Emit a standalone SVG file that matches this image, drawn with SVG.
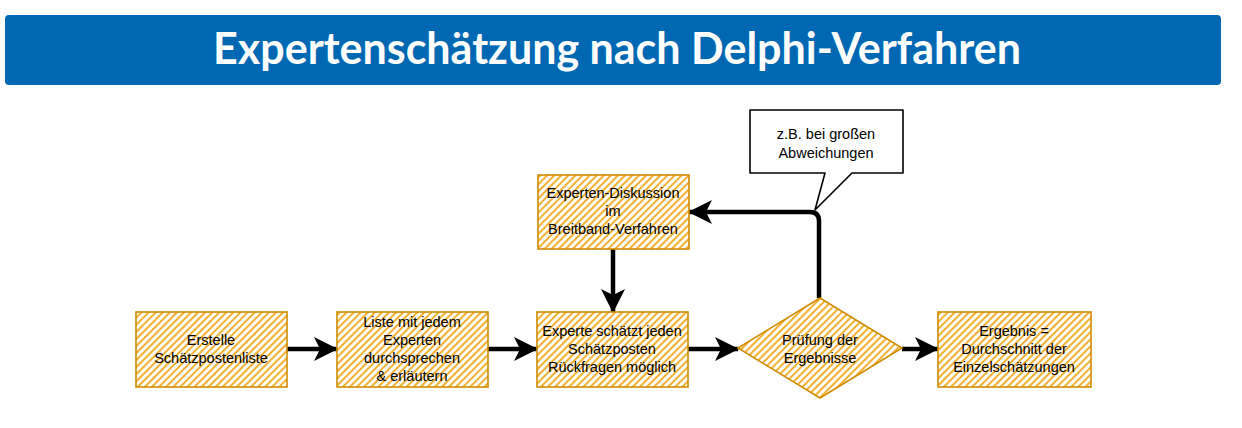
<svg xmlns="http://www.w3.org/2000/svg" width="1242" height="428" viewBox="0 0 1242 428">
<defs>
<pattern id="hatch" patternUnits="userSpaceOnUse" width="5" height="5" patternTransform="rotate(45)">
<rect width="5" height="5" fill="#ffffff"/>
<line x1="1" y1="0" x2="1" y2="5" stroke="#f0a30a" stroke-width="1.7"/>
</pattern>
<marker id="arr" markerUnits="userSpaceOnUse" markerWidth="26" markerHeight="26" refX="23" refY="12" orient="auto">
<path d="M0,0 L24,12 L0,24 L6,12 Z" fill="#000"/>
</marker>
</defs>
<style>
.box{fill:url(#hatch);stroke:#d08b00;stroke-width:1.6}
.t{font-family:"Liberation Sans",Arial,sans-serif;font-size:14.5px;fill:#000;text-anchor:middle}
.c{fill:none;stroke:#000;stroke-width:4.5;marker-end:url(#arr)}
.title{font-family:Lato,"Open Sans",sans-serif;font-weight:bold;font-size:43px;fill:#fff;text-anchor:middle}
</style>
<rect width="1242" height="428" fill="#fff"/>
<g id="banner">
<rect x="5" y="15" width="1216" height="70" rx="4" fill="#0068b3"/>
<text class="title" x="617" y="64">Expertenschätzung nach Delphi-Verfahren</text>
</g>
<g id="connectors">
<path class="c" d="M287,349 L337,349"/>
<path class="c" d="M488,349 L537,349"/>
<path class="c" d="M688,349 L738,349"/>
<path class="c" d="M902,349 L938,349"/>
<path class="c" d="M613,249 L613,312"/>
<path class="c" d="M819,298 L819,221 Q819,212 810,212 L689,212"/>
</g>
<g id="n1">
<rect class="box" x="136" y="312" width="151" height="75"/>
<text class="t" x="211" y="345">Erstelle</text>
<text class="t" x="211" y="363">Schätzpostenliste</text>
</g>
<g id="n2">
<rect class="box" x="337" y="312" width="151" height="75"/>
<text class="t" x="412" y="327">Liste mit jedem</text>
<text class="t" x="412" y="345">Experten</text>
<text class="t" x="412" y="363">durchsprechen</text>
<text class="t" x="412" y="381">&amp; erläutern</text>
</g>
<g id="n3">
<rect class="box" x="537" y="312" width="151" height="75"/>
<text class="t" x="612" y="336">Experte schätzt jeden</text>
<text class="t" x="612" y="354">Schätzposten</text>
<text class="t" x="612" y="372">Rückfragen möglich</text>
</g>
<g id="n4">
<rect class="box" x="538" y="175" width="151" height="74"/>
<text class="t" x="613" y="198">Experten-Diskussion</text>
<text class="t" x="613" y="216">im</text>
<text class="t" x="613" y="234">Breitband-Verfahren</text>
</g>
<g id="n5">
<path class="box" d="M820,298 L902,348 L820,398 L738,348 Z"/>
<text class="t" x="820" y="345">Prüfung der</text>
<text class="t" x="820" y="363">Ergebnisse</text>
</g>
<g id="n6">
<rect class="box" x="938" y="312" width="153" height="75"/>
<text class="t" x="1014" y="336">Ergebnis =</text>
<text class="t" x="1014" y="354">Durchschnitt der</text>
<text class="t" x="1014" y="372">Einzelschätzungen</text>
</g>
<g id="callout">
<path d="M750,110 L903,110 L903,173 L852,173 L815,210 L825,173 L750,173 Z" fill="#fff" stroke="#000" stroke-width="1.6" stroke-linejoin="round"/>
<text class="t" x="826" y="139">z.B. bei großen</text>
<text class="t" x="826" y="158">Abweichungen</text>
</g>
</svg>
